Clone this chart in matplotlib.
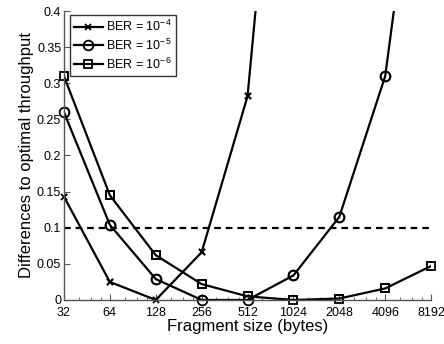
import matplotlib
matplotlib.use("Agg")
import matplotlib.pyplot as plt
from matplotlib.ticker import FixedLocator, FuncFormatter, LogLocator, NullFormatter

plt.rcParams['font.family'] = ['Liberation Sans', 'DejaVu Sans']

sizes = [32, 64, 128, 256, 512, 1024, 2048, 4096, 8192]
ber4 = [0.143, 0.025, 0.0, 0.066, 0.282, 0.96]
ber5 = [0.26, 0.104, 0.029, 0.0, 0.0, 0.034, 0.115, 0.31, 0.79]
ber6 = [0.31, 0.145, 0.062, 0.022, 0.005, 0.0, 0.002, 0.016, 0.047]
threshold = 0.1
yticks = [0, 0.05, 0.1, 0.15, 0.2, 0.25, 0.3, 0.35, 0.4]
ymax = 0.4

fig = plt.figure(figsize=(4.44, 3.44), dpi=100)
ax = fig.add_axes([0.144, 0.128, 0.827, 0.84])

series = [
    (ber4, 'x', 4.5, 'BER = 10$^{\\mathregular{-4}}$'),
    (ber5, 'o', 7, 'BER = 10$^{\\mathregular{-5}}$'),
    (ber6, 's', 5.5, 'BER = 10$^{\\mathregular{-6}}$'),
]
for vals, mk, ms, lab in series:
    xs = sizes[:len(vals)]
    # line clipped to the axes, markers left unclipped so edge points show whole
    ax.plot(xs, vals, 'k-', lw=1.6, marker=mk, ms=ms, mfc='none', mew=1.3, label=lab)
    inside = [(x, v) for x, v in zip(xs, vals) if v <= ymax]
    ax.plot([p[0] for p in inside], [p[1] for p in inside], ls='none', color='k',
            marker=mk, ms=ms, mfc='none', mew=1.3, clip_on=False)

ax.plot([sizes[0], sizes[-1]], [threshold, threshold], 'k--', lw=1.6, dashes=(3, 2.2))

ax.set_xscale('log', base=2)
ax.set_xlim(32, 8192)
ax.set_ylim(0, ymax)
ax.xaxis.set_major_locator(FixedLocator(sizes))
ax.xaxis.set_major_formatter(FuncFormatter(lambda v, p: '%d' % v))
ax.xaxis.set_minor_locator(LogLocator(base=2, subs=[1.25, 1.5, 1.75]))
ax.xaxis.set_minor_formatter(NullFormatter())
ax.set_yticks(yticks)
ax.yaxis.set_major_formatter(FuncFormatter(lambda v, p: '%g' % v))

for s in ['top', 'right']:
    ax.spines[s].set_visible(False)
for s in ['left', 'bottom']:
    ax.spines[s].set_color('#555555')
    ax.spines[s].set_linewidth(1.0)
ax.tick_params(which='both', direction='in', labelsize=9, color='#555555')
ax.tick_params(axis='x', pad=5)
ax.tick_params(axis='y', pad=2)
ax.tick_params(which='major', length=4)
ax.tick_params(which='minor', length=2.5)

ax.set_xlabel('Fragment size (bytes)', fontsize=12, labelpad=0)
ax.set_ylabel('Differences to optimal throughput', fontsize=12, labelpad=2)

leg = ax.legend(loc='upper left', bbox_to_anchor=(0.01, 0.995), fontsize=9,
                frameon=True, fancybox=False, edgecolor='black', handlelength=2.3,
                handletextpad=0.3, borderpad=0.3, labelspacing=0.3, borderaxespad=0.2)
leg.get_frame().set_linewidth(1.0)

fig.savefig('out.png', dpi=100)
